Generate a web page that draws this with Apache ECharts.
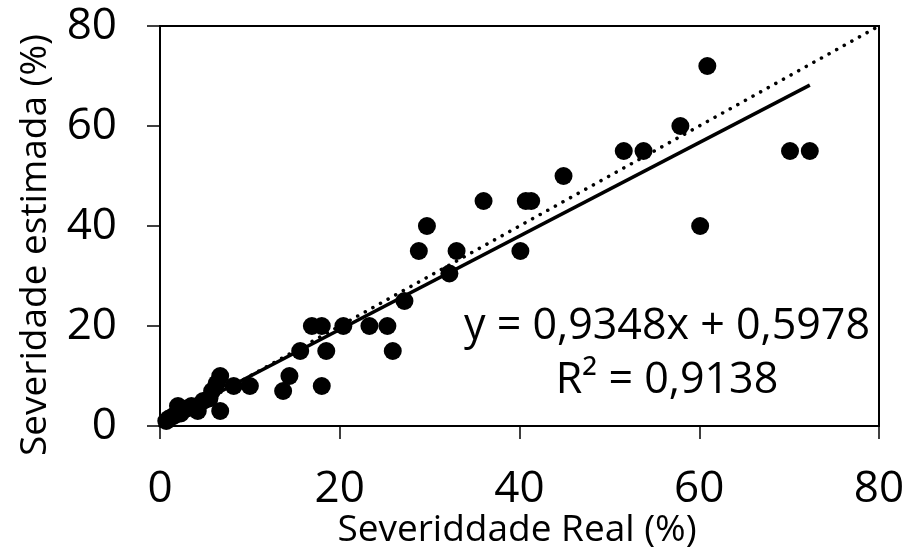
<!DOCTYPE html>
<html>
<head>
<meta charset="utf-8">
<script src="https://cdn.jsdelivr.net/npm/echarts@6/dist/echarts.min.js"></script>
<style>html,body{margin:0;padding:0;background:#fff}#c{width:918px;height:550px}</style>
</head>
<body>
<div id="c"></div>
<script>
var points = [
  [0.7,1],[1.0,1.5],[1.5,2],[2.0,4],[2.3,2.5],[3.0,3.5],[3.5,4],[4.2,3],[4.8,5],[5.5,5.5],
  [5.8,7],[6.3,8.5],[6.7,10],[6.7,3],[8.2,8],[10,8],
  [13.7,7],[14.4,10],[15.6,15],[16.9,20],[18,20],[18,8],[18.5,15],[20.4,20],[23.3,20],
  [25.3,20],[25.9,15],[27.2,25],[28.8,35],[29.7,40],[32.2,30.5],[33,35],[36,45],[40.1,35],
  [40.7,45],[41.3,45],[44.9,50],[51.6,55],[53.8,55],[57.9,60],[60.1,40],[60.9,72],[70.1,55],[72.3,55]
];
var trendLine = [[0.7,1.25],[72.3,68.18]];
var identityLine = [[0,0],[80,80]];
var xTicks = [0,20,40,60,80];
var yTicks = [0,20,40,60,80];
var xTitle = 'Severiddade Real (%)';
var yTitle = 'Severidade estimada (%)';
var eqLine1 = 'y = 0,9348x + 0,5978';
var eqLine2 = 'R² = 0,9138';

var font = '"Open Sans", sans-serif';
var chart = echarts.init(document.getElementById('c'));
chart.setOption({
  animation: false,
  backgroundColor: '#fff',
  grid: {left: 160, right: 39, top: 26, bottom: 124, show: true, borderColor: '#000', borderWidth: 2, backgroundColor: 'transparent'},
  xAxis: {
    type: 'value', min: xTicks[0], max: xTicks[xTicks.length-1], interval: 20,
    axisLine: {show: true, lineStyle: {color: '#000', width: 2}},
    axisTick: {show: true, inside: false, length: 13, lineStyle: {color: '#000', width: 1.5}},
    splitLine: {show: false},
    axisLabel: {color: '#000', fontSize: 44, fontFamily: font, margin: 41}
  },
  yAxis: {
    type: 'value', min: yTicks[0], max: yTicks[yTicks.length-1], interval: 20,
    axisLine: {show: true, lineStyle: {color: '#000', width: 2}},
    axisTick: {show: true, inside: false, length: 13, lineStyle: {color: '#000', width: 1.5}},
    splitLine: {show: false},
    axisLabel: {color: '#000', fontSize: 44, fontFamily: font, margin: 43}
  },
  graphic: [
    {type: 'text', style: {text: xTitle, x: 517, y: 530, fill: '#000', font: '37px ' + font, textAlign: 'center', textVerticalAlign: 'middle'}},
    {type: 'text', x: 35, y: 245, rotation: Math.PI/2, style: {text: yTitle, x: 0, y: 0, fill: '#000', font: '37px ' + font, textAlign: 'center', textVerticalAlign: 'middle'}},
    {type: 'text', style: {text: eqLine1, x: 667, y: 327, fill: '#000', font: '43px ' + font, textAlign: 'center', textVerticalAlign: 'middle'}},
    {type: 'text', style: {text: eqLine2, x: 667, y: 381, fill: '#000', font: '43px ' + font, textAlign: 'center', textVerticalAlign: 'middle'}}
  ],
  series: [
    {type: 'line', data: identityLine, symbol: 'none', z: 1,
     lineStyle: {color: '#000', width: 3.5, type: [0.1, 8.6], cap: 'round'}},
    {type: 'line', data: trendLine, symbol: 'none', z: 2,
     lineStyle: {color: '#000', width: 3.5, type: 'solid'}},
    {type: 'scatter', data: points, symbol: 'circle', symbolSize: 18, z: 3,
     itemStyle: {color: '#000', opacity: 1}}
  ]
});
</script>
</body>
</html>
